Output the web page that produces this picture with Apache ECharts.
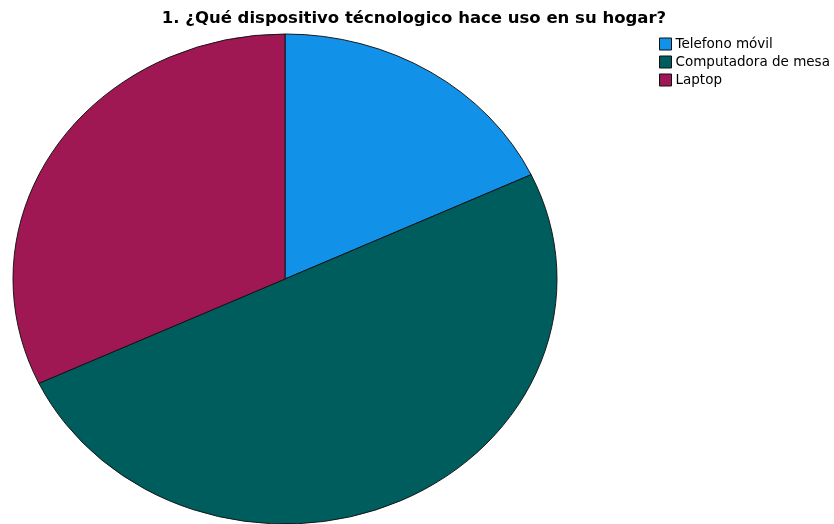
<!DOCTYPE html>
<html>
<head>
<meta charset="utf-8">
<script src="https://cdn.jsdelivr.net/npm/echarts@6/dist/echarts.min.js"></script>
<style>
  html, body { margin: 0; padding: 0; background: #fff; }
  #chart { width: 834px; height: 524px; }
</style>
</head>
<body>
<div id="chart"></div>
<script>
// Responses to survey question 1
const categories = ['Telefono móvil', 'Computadora de mesa', 'Laptop'];
const counts = [9, 25, 16];
const colors = ['#1192e8', '#005d5d', '#9f1853'];

const titleText = '1. ¿Qué dispositivo técnologico hace uso en su hogar?';

// Elliptical pie layout
const CX = 285, CY = 279, RX = 272, RY = 245;

const total = counts.reduce((a, b) => a + b, 0);

function sliceAngles(idx) {
  let before = 0;
  for (let i = 0; i < idx; i++) before += counts[i];
  const start = -Math.PI / 2 + (before / total) * Math.PI * 2;
  const end = start + (counts[idx] / total) * Math.PI * 2;
  return [start, end];
}

function renderSlice(params, api) {
  const idx = params.seriesIndex;
  const [a0, a1] = sliceAngles(idx);
  return {
    type: 'sector',
    x: CX,
    y: CY,
    scaleY: RY / RX,
    shape: { cx: 0, cy: 0, r0: 0, r: RX, startAngle: a0, endAngle: a1, clockwise: true },
    style: {
      fill: api.visual('color'),
      stroke: '#111',
      lineWidth: 1,
      strokeNoScale: true
    }
  };
}

const chart = echarts.init(document.getElementById('chart'), null, { renderer: 'canvas' });

chart.setOption({
  animation: false,
  backgroundColor: '#fff',
  title: {
    text: titleText,
    left: 414,
    textAlign: 'center',
    top: 10,
    padding: 0,
    textStyle: {
      fontFamily: 'DejaVu Sans, sans-serif',
      fontSize: 16.5,
      fontWeight: 'bold',
      color: '#000'
    }
  },
  legend: {
    orient: 'vertical',
    left: 659,
    top: 37,
    padding: 0,
    itemWidth: 12,
    itemHeight: 12,
    itemGap: 4,
    icon: 'rect',
    data: categories,
    itemStyle: { borderColor: '#111', borderWidth: 1 },
    textStyle: {
      fontFamily: 'DejaVu Sans, sans-serif',
      fontSize: 13.5,
      color: '#000',
      padding: [0, 0, 0, -1]
    }
  },
  series: categories.map((name, i) => ({
    type: 'custom',
    name: name,
    coordinateSystem: 'none',
    itemStyle: { color: colors[i], borderColor: '#111', borderWidth: 1 },
    renderItem: renderSlice,
    data: [[counts[i]]]
  }))
});
</script>
</body>
</html>
